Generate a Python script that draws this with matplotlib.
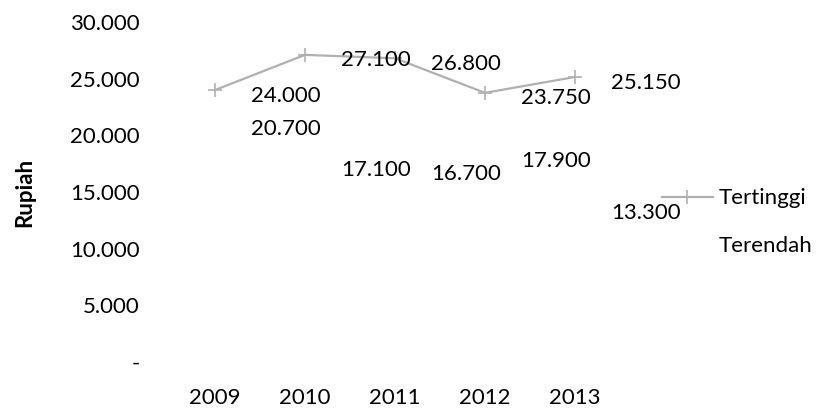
import matplotlib.pyplot as plt
from matplotlib.ticker import FuncFormatter

years = ['2009', '2010', '2011', '2012', '2013']
tertinggi = [24000, 27100, 26800, 23750, 25150]
terendah = [20700, 17100, 16700, 17900, 13300]

plt.rcParams['font.family'] = ['Lato', 'DejaVu Sans']
fs = 16

fig = plt.figure(figsize=(8.23, 4.16), dpi=100)
ax = fig.add_axes([0.2066, 0.1298, 0.5468, 0.8173])

x = range(len(years))
ax.plot(x, tertinggi, color='#b0b0b0', lw=1.6, marker='+', ms=10, mew=1.2,
        label='Tertinggi')
ax.plot(x, terendah, color='white', lw=1.6, label='Terendah')

for xi, v in zip(x, tertinggi):
    ax.annotate(f'{v:,}'.replace(',', '.'), (xi, v), xytext=(26, -4),
                textcoords='offset points', ha='left', va='center', fontsize=fs)
for xi, v in zip(x, terendah):
    ax.annotate(f'{v:,}'.replace(',', '.'), (xi, v), xytext=(26, -1),
                textcoords='offset points', ha='left', va='center', fontsize=fs)

ax.set_xlim(-0.5, 4.5)
ax.set_ylim(0, 30000)
ax.set_xticks(list(x))
ax.set_xticklabels(years)
ax.set_yticks(range(0, 30001, 5000))
ax.yaxis.set_major_formatter(FuncFormatter(
    lambda v, p: '-' if v == 0 else f'{int(v):,}'.replace(',', '.')))
ax.tick_params(axis='both', length=0, labelsize=fs)
ax.tick_params(axis='y', pad=22)
ax.tick_params(axis='x', pad=19)
for s in ax.spines.values():
    s.set_visible(False)

ax.set_ylabel('Rupiah', fontsize=fs, fontweight='bold')
ax.yaxis.set_label_coords(-0.30, 0.5)

fig.legend(loc='upper left', bbox_to_anchor=(0.78, 0.595), frameon=False,
           fontsize=fs, handlelength=2.3, handletextpad=0.25, labelspacing=1.25)

fig.savefig('out.png', dpi=100)
